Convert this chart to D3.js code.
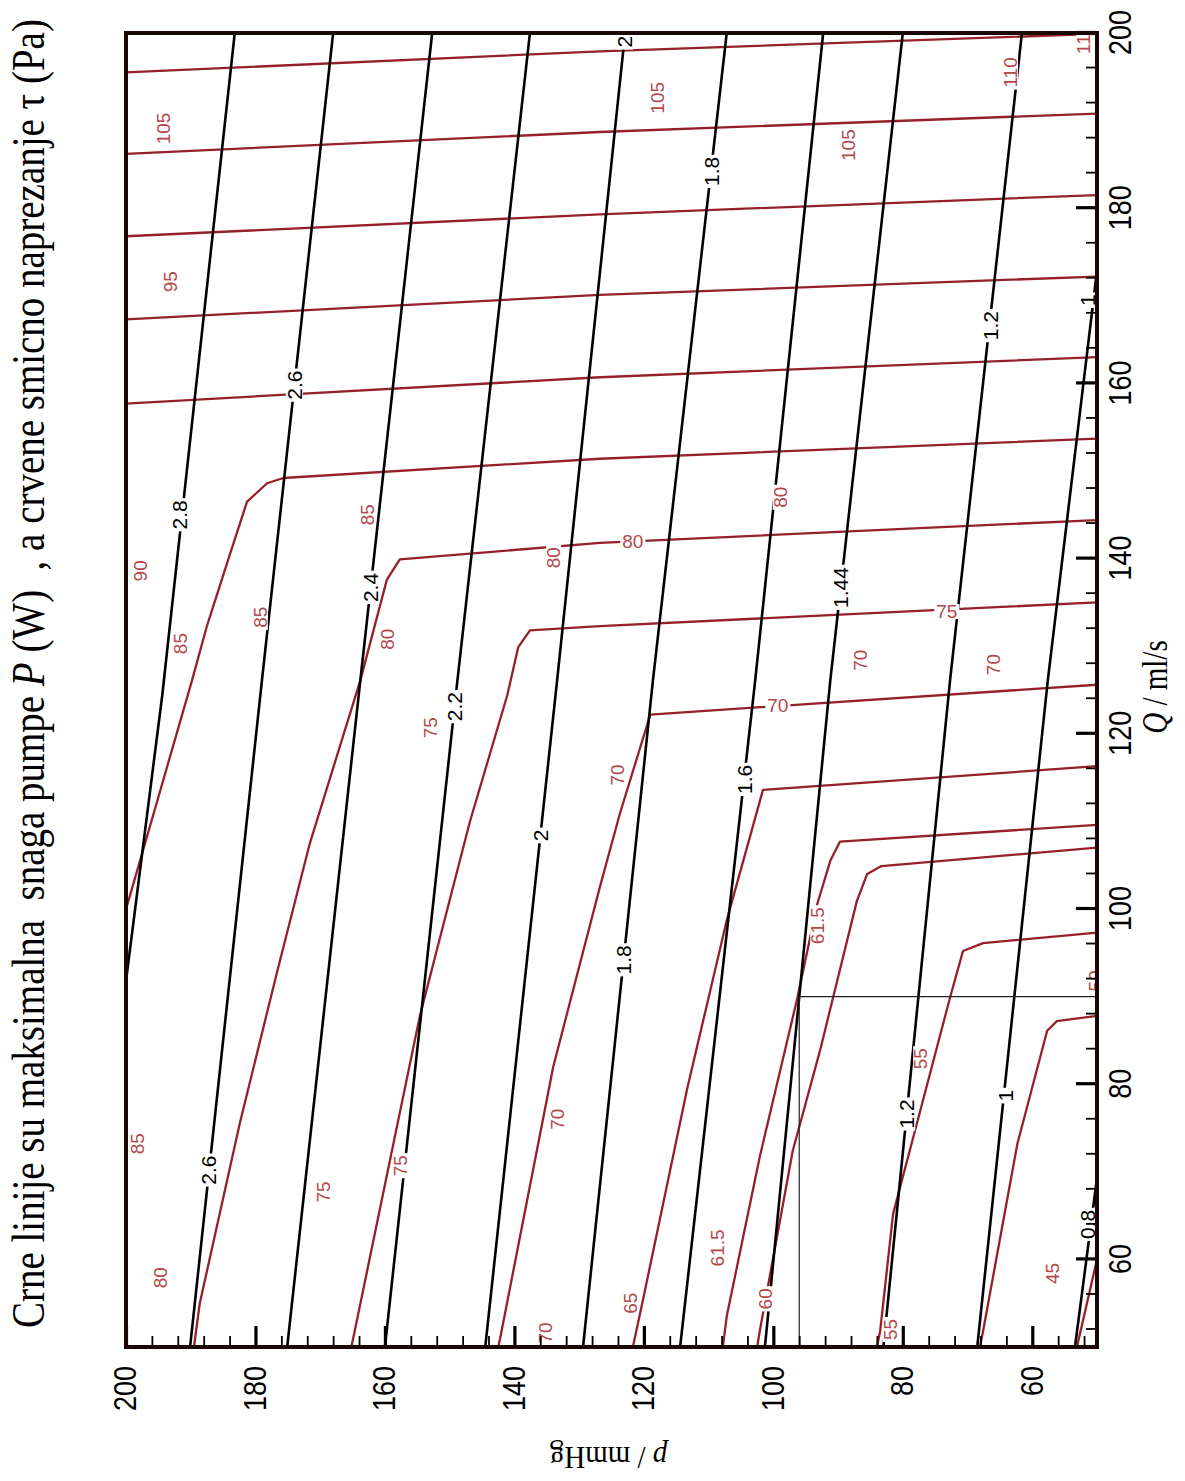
<!DOCTYPE html>
<html>
<head>
<meta charset="utf-8">
<title>Maksimalna snaga pumpe i smicno naprezanje</title>
<script src="https://cdn.jsdelivr.net/npm/d3@7/dist/d3.min.js"></script>
<style>
html,body{margin:0;padding:0;background:#ffffff;}
svg{display:block;}
</style>
</head>
<body>
<svg id="chart" width="1185" height="1481"></svg>
<script>
// ---------------- data ----------------
const qDomain = [50, 200];   // Q / ml/s
const pDomain = [50, 200];   // p / mmHg
const majorTicks = [60, 80, 100, 120, 140, 160, 180, 200];
const minorTicks = [52,56,64,68,72,76,84,88,92,96,104,108,112,116,124,128,132,136,144,148,152,156,164,168,172,176,184,188,192,196];

// black contours: maximum pump power P (W); points are [Q, p]
const powerLevels = ["2.8","2.6","2.4","2.2","2","1.8","1.6","1.44","1.2","1","0.8"];
const powerLines = [
  [[200,183.2],[124.4,194.4],[91.8,200]],
  [[200,168.0],[126.1,179.0],[50,190.1]],
  [[200,152.7],[126.1,163.8],[50,175.1]],
  [[200,137.6],[126.1,148.8],[50,160.0]],
  [[200,122.9],[126.1,133.4],[50,144.5]],
  [[200,107.2],[126.1,118.6],[50,129.4]],
  [[200,92.3],[126.1,102.8],[50,114.4]],
  [[200,80.0],[126.1,91.2],[50,101.3]],
  [[200,61.6],[126.1,72.7],[50,83.0]],
  [[172.9,50],[126.1,57.6],[50,68.5]],
  [[69.3,50],[50,53.4]]
];
// labels on black contours: [text, Q, p]
const powerLabels = [
  ["2.8",145.0,191.7],["2.6",159.8,174.0],["2.4",136.7,162.2],["2.2",123.1,149.2],
  ["2",108.4,136.0],["2",199.0,123.0],["1.8",184.2,109.5],["1.8",94.2,123.1],
  ["1.6",114.8,104.5],["1.44",136.7,89.6],["1.2",166.6,66.4],["1.2",76.6,79.4],
  ["1",169.5,51.4],["1",78.7,64.2],["0.8",64.0,51.5],["2.6",70.2,187.2]
];

// red contours: shear stress tau (Pa); points are [Q, p]
const stressLevels = ["110","105","100","95","90","85","80","75","70","65","61.5","60","55","50","45"];
const stressLines = [
  [[199.9,50],[197.9,126.8],[195.5,200]],
  [[190.8,50],[188.7,126.8],[186.2,200]],
  [[181.5,50],[179.3,126.8],[176.8,200]],
  [[172.2,50],[170.1,126.8],[167.3,200]],
  [[163.0,50],[160.7,126.8],[157.7,200]],
  [[153.7,50],[151.4,126.8],[149.2,175.7],[148.6,178.2],[146.5,181.3],[140.6,183.9],[132.3,187.5],[126.1,189.8],[101.5,199.4],[100.0,200]],
  [[144.4,50],[141.8,126.8],[139.9,157.7],[137.6,159.7],[126.1,163.8],[107.5,171.6],[92.7,176.7],[75.6,182.4],[55.0,188.6],[50,189.5]],
  [[135.0,50],[132.3,126.8],[131.8,137.6],[129.9,139.4],[124.4,141.1],[109.9,146.9],[87.8,154.6],[69.6,159.7],[51.0,164.9],[50,165.2]],
  [[125.6,50],[122.2,119.0],[110.9,123.7],[102.5,126.8],[82.0,134.0],[51.0,142.2],[50,142.5]],
  [[116.3,50],[113.6,101.6],[98.7,107.2],[79.5,113.3],[55.5,120.1],[50,121.7]],
  [[109.6,50],[107.7,89.7],[105.5,91.2],[100.6,93.2],[89.8,96.3],[71.7,102.1],[53.5,107.2],[50,107.8]],
  [[107.0,50],[104.9,83.3],[104.0,85.5],[100.9,87.1],[83.8,92.8],[72.4,97.0],[51.8,102.1],[50,102.5]],
  [[97.3,50],[96.1,67.6],[95.2,70.7],[89.9,72.7],[81.2,75.8],[65.2,81.5],[51.8,83.5],[50,84.0]],
  [[87.8,50],[87.2,56.2],[86.1,57.7],[73.2,62.3],[51.8,67.6],[50,68.1]],
  [[60.0,50],[50,53.1]]
];
// labels of red contours: [text, Q, p, orientation] ("r" = along p-axis text, "h" = turned)
const stressLabels = [
  ["110",199.3,52.1,"r"],["110",195.5,63.4,"r"],
  ["105",192.6,118.0,"r"],["105",187.2,88.5,"r"],["105",189.1,194.3,"r"],
  ["95",171.6,193.2,"r"],["90",138.6,197.8,"r"],
  ["85",145.0,162.8,"r"],["85",133.3,179.3,"r"],["85",130.3,191.7,"r"],["85",73.2,198.3,"r"],
  ["80",130.8,159.7,"r"],["80",140.1,134.0,"r"],["80",147.0,99.0,"r"],["80",142.0,121.7,"h"],["80",57.9,194.7,"r"],
  ["75",120.7,153.0,"r"],["75",67.7,169.6,"r"],["75",70.7,157.7,"r"],["75",134.0,73.2,"h"],
  ["70",115.3,124.1,"r"],["70",76.0,133.4,"r"],["70",51.6,135.3,"r"],["70",123.3,99.3,"h"],["70",128.4,86.6,"r"],["70",127.9,66.1,"r"],
  ["65",55.0,122.1,"r"],["61.5",98.1,93.2,"r"],["61.5",61.3,108.7,"r"],["60",55.5,101.3,"r"],
  ["55",82.9,77.3,"r"],["55",52.0,82.0,"r"],["45",58.4,56.9,"r"],["50",91.8,50.3,"r"]
];

// thin reference lines at Q = 90 ml/s and p = 96 mmHg
const refQ = 90;
const refP = 96;

// ---------------- drawing ----------------
const W = 1314, H = 971;
const svg = d3.select("#chart");
const x = d3.scaleLinear().domain(qDomain).range([0, W]);   // Q
const y = d3.scaleLinear().domain(pDomain).range([H, 0]);   // p

svg.append("defs").append("clipPath").attr("id", "plotClip")
  .append("rect").attr("x", 0).attr("y", 0).attr("width", W).attr("height", H);

// whole chart is turned a quarter turn counter-clockwise
const g = svg.append("g").attr("transform", "translate(126,1347) rotate(-90)");
const plot = g.append("g").attr("clip-path", "url(#plotClip)");

const line = d3.line().x(d => x(d[0])).y(d => y(d[1]));

const RED = "#962027";
const RED_TEXT = "#b3484b";

plot.append("g").selectAll("path").data(stressLines).join("path")
  .attr("d", line).attr("fill", "none").attr("stroke", RED)
  .attr("stroke-width", 2.3).attr("stroke-linejoin", "round");

plot.append("g").selectAll("path").data(powerLines).join("path")
  .attr("d", line).attr("fill", "none").attr("stroke", "#000")
  .attr("stroke-width", 2.6).attr("stroke-linejoin", "round");

// reference lines
plot.append("line").attr("x1", x(refQ)).attr("x2", x(refQ)).attr("y1", y(refP)).attr("y2", y(50))
  .attr("stroke", "#222").attr("stroke-width", 1.2);
plot.append("line").attr("x1", x(50)).attr("x2", x(refQ)).attr("y1", y(refP)).attr("y2", y(refP))
  .attr("stroke", "#222").attr("stroke-width", 1.2);

function addLabel(layer, text, q, p, rot, size, color) {
  const grp = layer.append("g").attr("transform", `translate(${x(q)},${y(p)}) rotate(${rot})`);
  const rect = grp.append("rect").attr("fill", "#fff");
  const t = grp.append("text").attr("text-anchor", "middle").attr("dy", "0.36em")
    .style("font-family", "'Liberation Sans', Arial, sans-serif").style("font-size", size + "px")
    .attr("fill", color).text(text);
  const bb = t.node().getBBox();
  rect.attr("x", bb.x - 2).attr("y", bb.y + 3).attr("width", bb.width + 4).attr("height", Math.max(0, bb.height - 6));
}
const labelLayer = plot.append("g");
stressLabels.forEach(d => addLabel(labelLayer, d[0], d[1], d[2], d[3] === "h" ? 90 : 0, 19, RED_TEXT));
powerLabels.forEach(d => addLabel(labelLayer, d[0], d[1], d[2], 0, 21, "#000"));

// axes (ticks point inward)
const tickFont = "'Liberation Sans', Arial, sans-serif";
const qAxis = g.append("g").attr("transform", `translate(0,${H})`)
  .call(d3.axisBottom(x).tickValues(majorTicks).tickSizeInner(-21).tickSizeOuter(0).tickPadding(10).tickFormat(d3.format("d")));
const qMinor = g.append("g").attr("transform", `translate(0,${H})`)
  .call(d3.axisBottom(x).tickValues(minorTicks).tickSizeInner(-11).tickSizeOuter(0).tickFormat(() => ""));
const pAxis = g.append("g")
  .call(d3.axisLeft(y).tickValues(majorTicks).tickSizeInner(-21).tickSizeOuter(0).tickPadding(19).tickFormat(d3.format("d")));
const pMinor = g.append("g")
  .call(d3.axisLeft(y).tickValues(minorTicks).tickSizeInner(-11).tickSizeOuter(0).tickFormat(() => ""));
[qAxis, qMinor, pAxis, pMinor].forEach(a => a.select(".domain").remove());
[qAxis, pAxis].forEach(a => {
  a.selectAll(".tick line").attr("stroke", "#000").attr("stroke-width", 3.2);
  a.selectAll(".tick text").attr("fill", "#000").style("font-family", tickFont)
    .style("font-size", "27px").attr("transform", "scale(1,1.15)");
});
[qMinor, pMinor].forEach(a => a.selectAll(".tick line").attr("stroke", "#000").attr("stroke-width", 1.8));

// frame
g.append("rect").attr("x", 0).attr("y", 0).attr("width", W).attr("height", H)
  .attr("fill", "none").attr("stroke", "#1c0707").attr("stroke-width", 4);

// axis titles
const serif = "'Liberation Serif', 'Times New Roman', serif";
const qTitle = g.append("text").attr("transform", `translate(${W / 2 + 3},${H + 70}) scale(1,1.2)`)
  .attr("text-anchor", "middle").style("font-family", serif).style("font-size", "29px").attr("fill", "#000");
qTitle.append("tspan").style("font-style", "italic").text("Q");
qTitle.append("tspan").text(" / ml/s");

const pTitle = g.append("text").attr("transform", `translate(-100,${H / 2 - 3}) rotate(-90) scale(1,1.12)`)
  .attr("text-anchor", "middle").style("font-family", serif).style("font-size", "29px").attr("fill", "#000");
pTitle.append("tspan").style("font-style", "italic").text("p");
pTitle.append("tspan").text(" / mmHg");

// chart title
const title = g.append("text").attr("transform", "translate(19,-82) scale(1,1.2)")
  .style("font-family", serif).style("font-size", "35px").style("white-space", "pre").attr("fill", "#000");
title.append("tspan").text("Crne linije su maksimalna  snaga pumpe ");
title.append("tspan").style("font-style", "italic").text("P");
title.append("tspan").text(" (W)  , a crvene smicno naprezanje τ (Pa)");
const tl = title.node().getComputedTextLength();
title.style("font-size", (35 * 1309 / tl).toFixed(2) + "px");
</script>
</body>
</html>
